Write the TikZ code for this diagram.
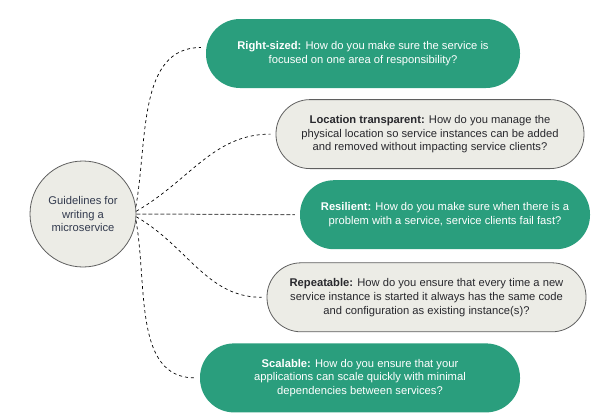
\documentclass[tikz,border=0pt]{standalone}
\usepackage{fontspec}
\setmainfont{Liberation Sans}
\definecolor{Teal}{RGB}{42, 158, 125}
\definecolor{Paper}{RGB}{236, 236, 230}
\definecolor{Edge}{RGB}{95, 95, 95}
\definecolor{Ink}{RGB}{40, 40, 45}
\definecolor{HubInk}{RGB}{50, 58, 78}
\usetikzlibrary{arrows.meta, positioning, shapes, calc}

\begin{document}
\begin{tikzpicture}[x=1pt, y=1pt,
    every node/.style={font=\fontsize{11.2}{13.8}\selectfont},
    pill/.style={rectangle, rounded corners=34pt, minimum height=69pt, align=center, inner sep=0pt},
    greenbox/.style={pill, fill=Teal, text=white},
    graybox/.style={pill, draw=Edge, line width=0.8pt, fill=Paper, text=Ink},
    link/.style={dashed, line width=0.7pt, shorten >=5pt}]
            \useasboundingbox (0,0) rectangle (608,-416);
            \node[circle, draw=Edge, line width=0.8pt, fill=Paper, text=HubInk, minimum size=106pt, align=center] (hub) at (83,-214) {Guidelines for\\writing a\\microservice};

            \node[greenbox, minimum width=314pt] (size) at (363,-53.5) {\textbf{Right-sized:} How do you make sure the service is\\focused on one area of responsibility?};
            \node[graybox, minimum width=308pt, below=11pt of size, xshift=67pt] (loc) {\textbf{Location transparent:} How do you manage the\\physical location so service instances can be added\\and removed without impacting service clients?};
            \node[greenbox, minimum width=290pt, below=11pt of loc, xshift=15pt] (res) {\textbf{Resilient:} How do you make sure when there is a\\problem with a service, service clients fail fast?};
            \node[graybox, minimum width=319pt, below=13pt of res, xshift=-18.5pt] (rep) {\textbf{Repeatable:} How do you ensure that every time a new\\service instance is started it always has the same code\\and configuration as existing instance(s)?};
            \node[greenbox, minimum width=320pt, below=11pt of rep, xshift=-66.5pt] (scal) {\textbf{Scalable:} How do you ensure that your\\applications can scale quickly with minimal\\dependencies between services?};

            \draw[link] (hub.8) to[out=80, in=180] ($(size.west)+(0,6)$);
            \draw[link] (hub.3) to[out=30, in=180] (loc.west);
            \draw[link, draw=Edge, line width=1pt, dash pattern=on 4pt off 2pt] (hub.east) -- (res.west);
            \draw[link] (hub.-3) to[out=-30, in=180] (rep.west);
            \draw[link] (hub.-7) to[out=-80, in=180] (scal.west);
        \end{tikzpicture}
\end{document}
